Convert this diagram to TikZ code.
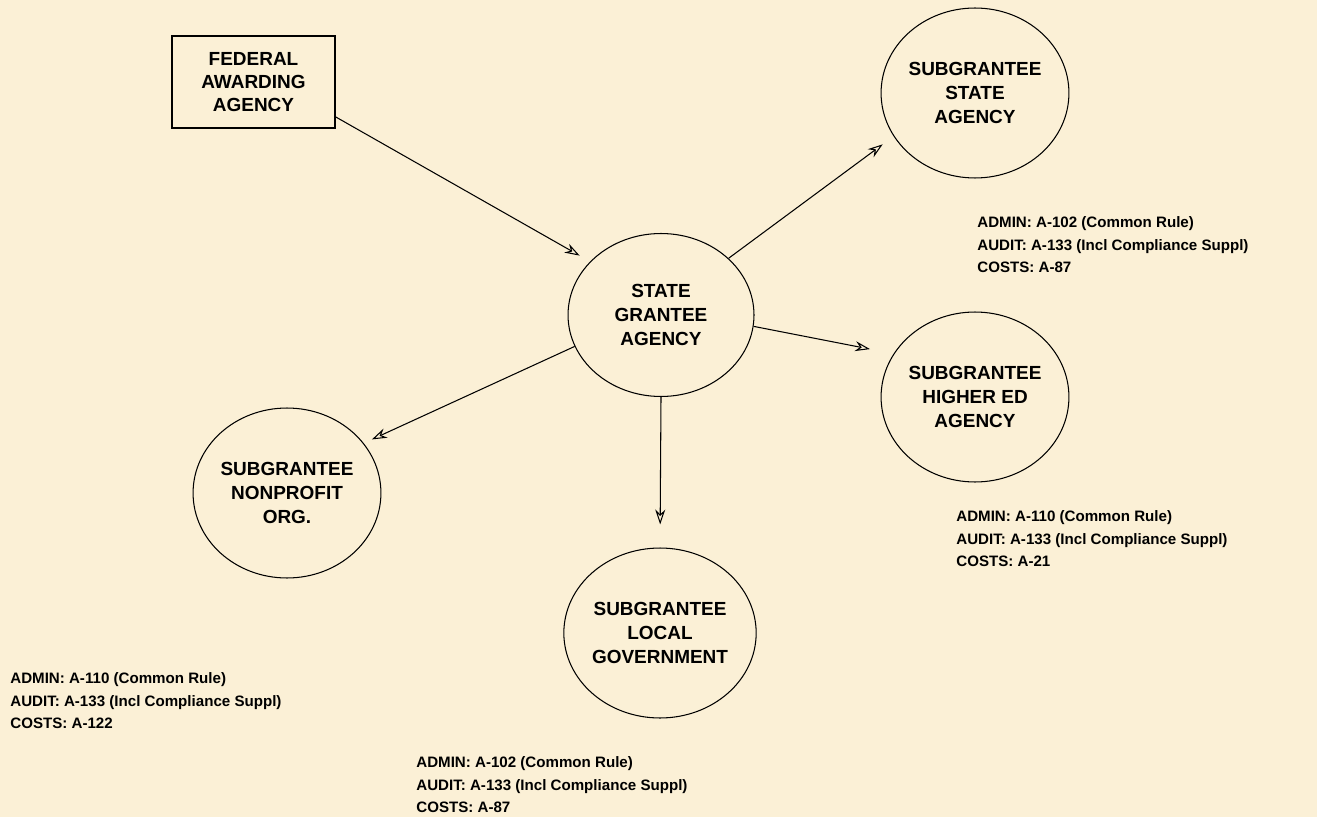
\documentclass[tikz,border=0pt]{standalone}
\usepackage{fontspec}
\setmainfont{Liberation Sans}
\usetikzlibrary{shapes.geometric,arrows.meta}
\definecolor{parchment}{HTML}{FBF0D6}
\tikzset{
  agency/.style={draw, rectangle, line width=0.6pt, inner sep=0pt, align=center,
    minimum width=3.26cm, minimum height=1.84cm, font=\fontsize{10.8}{13}\selectfont\bfseries},
  grantee/.style={draw, ellipse, line width=0.6pt, inner sep=0pt, align=center,
    minimum width=3.68cm, minimum height=3.4cm, font=\fontsize{10.8}{13.6}\selectfont\bfseries},
  rules/.style={anchor=north west, inner sep=0pt, align=left,
    font=\fontsize{8.6}{13}\selectfont\bfseries},
  flow/.style={->, line width=0.6pt}
}
\begin{document}
\begin{tikzpicture}[x=0.02cm, y=-0.02cm, >={Stealth[open,length=0.3cm,width=0.2cm,inset=0.1cm]}]
\fill[parchment] (0,0) rectangle (1317,817);
\useasboundingbox (0,0) rectangle (1317,817);
\node[agency] (fed) at (253.5,82) {FEDERAL\\AWARDING\\AGENCY};
\node[grantee, minimum width=3.72cm, minimum height=3.26cm] (state) at (661,315) {STATE\\GRANTEE\\AGENCY};
\node[grantee] (substate) at (975,93) {SUBGRANTEE\\STATE\\AGENCY};
\node[grantee] (higher) at (975,397) {SUBGRANTEE\\HIGHER ED\\AGENCY};
\node[grantee] (nonprofit) at (287,493) {SUBGRANTEE\\NONPROFIT\\ORG.};
\node[grantee] (local) at (660,633) {SUBGRANTEE\\LOCAL\\GOVERNMENT};
\draw[flow, shorten >=0.24cm] (fed.-23) -- (state.143);
\draw[flow, shorten >=0.27cm] (state.40) -- (substate.-152);
\draw[flow, shorten >=0.48cm] (state.-7) -- (higher.152);
\draw[flow, shorten >=0.18cm] (state.-160) -- (nonprofit.33);
\draw[flow, shorten >=0.46cm] (state.south) -- (local.north);
\node[rules] (staterules) at (977,216) {ADMIN: A-102 (Common Rule)\\AUDIT: A-133 (Incl Compliance Suppl)\\COSTS: A-87};
\node[rules] (higherrules) at (956,510) {ADMIN: A-110 (Common Rule)\\AUDIT: A-133 (Incl Compliance Suppl)\\COSTS: A-21};
\node[rules] (nonprofitrules) at (10,672) {ADMIN: A-110 (Common Rule)\\AUDIT: A-133 (Incl Compliance Suppl)\\COSTS: A-122};
\node[rules] (localrules) at (416,756) {ADMIN: A-102 (Common Rule)\\AUDIT: A-133 (Incl Compliance Suppl)\\COSTS: A-87};
\end{tikzpicture}
\end{document}
